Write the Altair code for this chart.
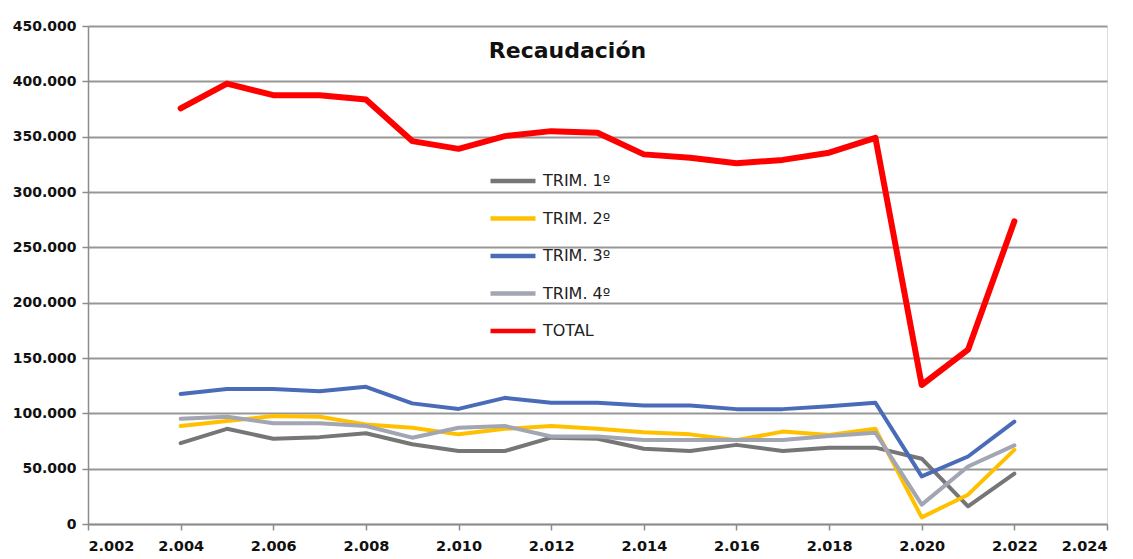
import altair as alt
import pandas as pd

years = list(range(2004, 2023))
series_names = ["TRIM. 1º", "TRIM. 2º", "TRIM. 3º", "TRIM. 4º", "TOTAL"]

trim1 = [73000, 86000, 77000, 78500, 82000, 72000, 66000, 66000, 78000, 77000,
         68000, 66000, 71500, 66000, 69000, 69000, 59000, 16000, 45500]
trim2 = [88500, 93000, 97500, 97000, 90000, 87000, 81000, 86000, 88500, 86000,
         83000, 81000, 75600, 83500, 80500, 86000, 6000, 26500, 67000]
trim3 = [117500, 122000, 122000, 120000, 124000, 109000, 104000, 114000, 109500, 109500,
         107000, 107000, 103800, 103800, 106500, 109600, 43000, 61000, 92500]
trim4 = [95000, 97000, 91000, 91000, 88500, 78000, 87000, 88500, 79000, 79000,
         76000, 76000, 76000, 76000, 79500, 82500, 17500, 52000, 71000]
total = [375500, 398000, 387500, 387500, 383500, 346000, 339000, 350500, 355000, 353500,
         334000, 331000, 326000, 329000, 335500, 349000, 125600, 157500, 273500]

colors = ["#767676", "#ffc000", "#4a6cb8", "#a2a5b2", "#ff0000"]
widths = [4, 4, 4, 4, 6]

all_values = [trim1, trim2, trim3, trim4, total]
rows = []
for name, vals, w in zip(series_names, all_values, widths):
    for y, v in zip(years, vals):
        rows.append({"year": y, "value": v, "serie": name, "w": w})
df = pd.DataFrame(rows)

x_ticks = list(range(2002, 2025, 2))
y_ticks = list(range(0, 450001, 50000))

label_expr = "replace(format(datum.value, ','), regexp(',', 'g'), '.')"

chart = alt.Chart(df).mark_line(strokeCap="round", strokeJoin="round").encode(
    x=alt.X("year:Q",
            scale=alt.Scale(domain=[2002, 2024], nice=False, zero=False),
            axis=alt.Axis(values=x_ticks, labelExpr=label_expr, title=None, grid=False,
                          domainColor="#8c8c8c", domainWidth=1.5, tickColor="#8c8c8c",
                          tickSize=6, tickWidth=1.5, labelPadding=9,
                          labelFont="DejaVu Sans", labelFontWeight="bold",
                          labelFontSize=14.5, labelColor="#111111")),
    y=alt.Y("value:Q",
            scale=alt.Scale(domain=[0, 450000], nice=False),
            axis=alt.Axis(values=y_ticks, labelExpr=label_expr, title=None, grid=True,
                          gridColor="#979797", gridWidth=1.8,
                          domainColor="#8c8c8c", domainWidth=1.5, tickColor="#8c8c8c",
                          tickSize=6, tickWidth=1.5, labelPadding=6,
                          labelFont="DejaVu Sans", labelFontWeight="bold",
                          labelFontSize=14, labelColor="#111111")),
    color=alt.Color("serie:N",
                    scale=alt.Scale(domain=series_names, range=colors),
                    sort=series_names,
                    legend=alt.Legend(title=None, orient="none", legendX=400, legendY=145,
                                      symbolType="stroke", symbolSize=2025,
                                      symbolStrokeWidth=4.5, clipHeight=20,
                                      rowPadding=17.5, labelOffset=5, padding=0,
                                      labelFont="DejaVu Sans", labelFontSize=16,
                                      labelColor="#222222")),
    strokeWidth=alt.StrokeWidth("w:Q", scale=None, legend=None),
    order=alt.Order("year:Q"),
).properties(
    width=1019,
    height=498,
    title=alt.TitleParams("Recaudación", fontSize=22, fontWeight="bold",
                          font="DejaVu Sans", color="#111111", anchor="middle",
                          dx=-30, offset=-66, baseline="bottom"),
    autosize=alt.AutoSizeParams(type="none"),
    padding={"left": 80, "top": 18, "right": 14, "bottom": 30},
).configure_view(
    fill="#dde2ef", stroke=None
).configure(background="#ffffff")

chart.save("out.html", embed_options={"renderer": "svg", "actions": False})
